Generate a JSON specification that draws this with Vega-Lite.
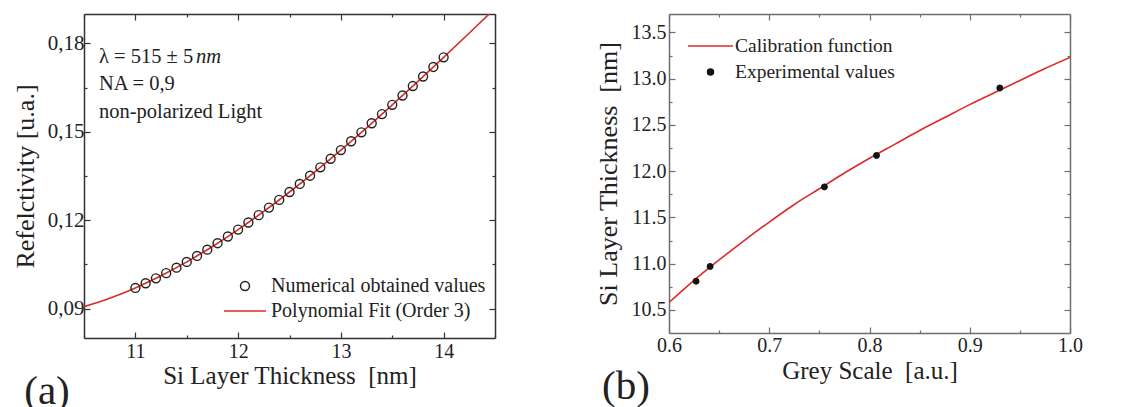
{
  "$schema": "https://vega.github.io/schema/vega-lite/v6.json",
  "background": "white",
  "padding": {"left": 12, "top": 13, "right": 0, "bottom": 0},
  "spacing": 99,
  "config": {
    "font": "Liberation Serif",
    "view": {"stroke": null},
    "axis": {"grid": false, "labelFont": "Liberation Serif", "titleFont": "Liberation Serif", "labelColor": "#222", "titleColor": "#222", "titleFontWeight": "normal", "domainWidth": 1.5, "tickWidth": 1.2},
    "legend": {"labelFont": "Liberation Serif", "labelLimit": 400},
    "title": {"font": "Liberation Serif"},
    "text": {"font": "Liberation Serif"}
  },
  "resolve": {
    "scale": {"color": "independent", "shape": "independent", "size": "independent", "x": "independent", "y": "independent"},
    "legend": {"color": "independent", "shape": "independent", "size": "independent"}
  },
  "hconcat": [
    {
      "width": 411,
      "height": 324,
      "title": {"text": "(a)", "orient": "bottom", "anchor": "start", "font": "Liberation Serif", "fontSize": 41, "fontWeight": "normal", "color": "#222", "dx": 12, "offset": -16},
      "layer": [
        {
          "data": {"values": [
            {"thickness": 10.5, "reflectivity": 0.09064, "series": "Polynomial Fit (Order 3)"},
            {"thickness": 10.75, "reflectivity": 0.09349, "series": "Polynomial Fit (Order 3)"},
            {"thickness": 11.0, "reflectivity": 0.09700, "series": "Polynomial Fit (Order 3)"},
            {"thickness": 11.25, "reflectivity": 0.10113, "series": "Polynomial Fit (Order 3)"},
            {"thickness": 11.5, "reflectivity": 0.10583, "series": "Polynomial Fit (Order 3)"},
            {"thickness": 11.75, "reflectivity": 0.11107, "series": "Polynomial Fit (Order 3)"},
            {"thickness": 12.0, "reflectivity": 0.11680, "series": "Polynomial Fit (Order 3)"},
            {"thickness": 12.25, "reflectivity": 0.12298, "series": "Polynomial Fit (Order 3)"},
            {"thickness": 12.5, "reflectivity": 0.12957, "series": "Polynomial Fit (Order 3)"},
            {"thickness": 12.75, "reflectivity": 0.13652, "series": "Polynomial Fit (Order 3)"},
            {"thickness": 13.0, "reflectivity": 0.14380, "series": "Polynomial Fit (Order 3)"},
            {"thickness": 13.25, "reflectivity": 0.15136, "series": "Polynomial Fit (Order 3)"},
            {"thickness": 13.5, "reflectivity": 0.15916, "series": "Polynomial Fit (Order 3)"},
            {"thickness": 13.75, "reflectivity": 0.16715, "series": "Polynomial Fit (Order 3)"},
            {"thickness": 14.0, "reflectivity": 0.17530, "series": "Polynomial Fit (Order 3)"},
            {"thickness": 14.25, "reflectivity": 0.18356, "series": "Polynomial Fit (Order 3)"},
            {"thickness": 14.5, "reflectivity": 0.19189, "series": "Polynomial Fit (Order 3)"}
          ]},
          "mark": {"type": "line", "strokeWidth": 1.6, "clip": true, "interpolate": "monotone"},
          "encoding": {
            "x": {"field": "thickness", "type": "quantitative",
              "scale": {"domain": [10.5, 14.5], "nice": false, "zero": false},
              "axis": {"orient": "bottom", "title": "Si Layer Thickness\u00a0 [nm]", "values": [10.5, 11, 11.5, 12, 12.5, 13, 13.5, 14, 14.5],
                "labelExpr": "datum.value % 1 === 0 ? format(datum.value, '.0f') : ''",
                "tickSize": {"condition": {"test": "datum.value % 1 === 0", "value": -6}, "value": -3},
                "labelFontSize": 20, "titleFontSize": 25, "labelPadding": 9, "titlePadding": 2, "domainColor": "#333", "tickColor": "#333"}},
            "y": {"field": "reflectivity", "type": "quantitative",
              "scale": {"domain": [0.08, 0.19], "nice": false, "zero": false},
              "axis": {"orient": "left", "title": "Refelctivity [u.a.]", "values": [0.09, 0.105, 0.12, 0.135, 0.15, 0.165, 0.18],
                "labelExpr": "indexof([0.09, 0.12, 0.15, 0.18], datum.value) >= 0 ? replace(format(datum.value, '.2f'), '.', ',') : ''",
                "tickSize": {"condition": {"test": "indexof([0.09, 0.12, 0.15, 0.18], datum.value) >= 0", "value": -6}, "value": -3},
                "labelFontSize": 21, "titleFontSize": 26, "labelPadding": 6, "titlePadding": 9, "domainColor": "#333", "tickColor": "#333"}},
            "color": {"field": "series", "type": "ordinal",
              "scale": {"domain": ["Numerical obtained values", "Polynomial Fit (Order 3)"], "range": ["#222222", "#dc2a2a"]},
              "legend": {"title": null, "orient": "none", "legendX": 139, "legendY": 262, "padding": 0, "labelFontSize": 20, "labelColor": "#222", "symbolStrokeWidth": 1.5, "rowPadding": 5, "clipHeight": 20, "labelOffset": 4, "labelLimit": 400}}
          }
        },
        {
          "data": {"values": [
            {"thickness": 11.0, "reflectivity": 0.09700, "series": "Numerical obtained values"},
            {"thickness": 11.1, "reflectivity": 0.09858, "series": "Numerical obtained values"},
            {"thickness": 11.2, "reflectivity": 0.10025, "series": "Numerical obtained values"},
            {"thickness": 11.3, "reflectivity": 0.10202, "series": "Numerical obtained values"},
            {"thickness": 11.4, "reflectivity": 0.10388, "series": "Numerical obtained values"},
            {"thickness": 11.5, "reflectivity": 0.10583, "series": "Numerical obtained values"},
            {"thickness": 11.6, "reflectivity": 0.10786, "series": "Numerical obtained values"},
            {"thickness": 11.7, "reflectivity": 0.10998, "series": "Numerical obtained values"},
            {"thickness": 11.8, "reflectivity": 0.11218, "series": "Numerical obtained values"},
            {"thickness": 11.9, "reflectivity": 0.11445, "series": "Numerical obtained values"},
            {"thickness": 12.0, "reflectivity": 0.11680, "series": "Numerical obtained values"},
            {"thickness": 12.1, "reflectivity": 0.11922, "series": "Numerical obtained values"},
            {"thickness": 12.2, "reflectivity": 0.12171, "series": "Numerical obtained values"},
            {"thickness": 12.3, "reflectivity": 0.12427, "series": "Numerical obtained values"},
            {"thickness": 12.4, "reflectivity": 0.12689, "series": "Numerical obtained values"},
            {"thickness": 12.5, "reflectivity": 0.12957, "series": "Numerical obtained values"},
            {"thickness": 12.6, "reflectivity": 0.13231, "series": "Numerical obtained values"},
            {"thickness": 12.7, "reflectivity": 0.13510, "series": "Numerical obtained values"},
            {"thickness": 12.8, "reflectivity": 0.13795, "series": "Numerical obtained values"},
            {"thickness": 12.9, "reflectivity": 0.14085, "series": "Numerical obtained values"},
            {"thickness": 13.0, "reflectivity": 0.14380, "series": "Numerical obtained values"},
            {"thickness": 13.1, "reflectivity": 0.14679, "series": "Numerical obtained values"},
            {"thickness": 13.2, "reflectivity": 0.14983, "series": "Numerical obtained values"},
            {"thickness": 13.3, "reflectivity": 0.15290, "series": "Numerical obtained values"},
            {"thickness": 13.4, "reflectivity": 0.15601, "series": "Numerical obtained values"},
            {"thickness": 13.5, "reflectivity": 0.15916, "series": "Numerical obtained values"},
            {"thickness": 13.6, "reflectivity": 0.16233, "series": "Numerical obtained values"},
            {"thickness": 13.7, "reflectivity": 0.16554, "series": "Numerical obtained values"},
            {"thickness": 13.8, "reflectivity": 0.16877, "series": "Numerical obtained values"},
            {"thickness": 13.9, "reflectivity": 0.17202, "series": "Numerical obtained values"},
            {"thickness": 14.0, "reflectivity": 0.17530, "series": "Numerical obtained values"}
          ]},
          "mark": {"type": "point", "filled": false, "strokeWidth": 1.4, "opacity": 1},
          "encoding": {
            "x": {"field": "thickness", "type": "quantitative",
              "axis": {"orient": "top", "title": null, "labels": false, "values": [10.5, 11, 11.5, 12, 12.5, 13, 13.5, 14, 14.5],
                "tickSize": {"condition": {"test": "datum.value % 1 === 0", "value": -6}, "value": -3},
                "domainColor": "#333", "tickColor": "#333"}},
            "y": {"field": "reflectivity", "type": "quantitative",
              "axis": {"orient": "right", "title": null, "labels": false, "values": [0.09, 0.105, 0.12, 0.135, 0.15, 0.165, 0.18],
                "tickSize": {"condition": {"test": "indexof([0.09, 0.12, 0.15, 0.18], datum.value) >= 0", "value": -6}, "value": -3},
                "domainColor": "#333", "tickColor": "#333"}},
            "color": {"field": "series", "type": "ordinal",
              "scale": {"domain": ["Numerical obtained values", "Polynomial Fit (Order 3)"], "range": ["#222222", "#dc2a2a"]},
              "legend": {"title": null, "orient": "none", "legendX": 139, "legendY": 262, "padding": 0, "labelFontSize": 20, "labelColor": "#222", "symbolStrokeWidth": 1.5, "rowPadding": 5, "clipHeight": 20, "labelOffset": 4, "labelLimit": 400}},
            "shape": {"field": "series", "type": "ordinal",
              "scale": {"domain": ["Numerical obtained values", "Polynomial Fit (Order 3)"], "range": ["circle", "stroke"]},
              "legend": {"title": null, "orient": "none", "legendX": 139, "legendY": 262, "padding": 0, "labelFontSize": 20, "labelColor": "#222", "symbolStrokeWidth": 1.5, "rowPadding": 5, "clipHeight": 20, "labelOffset": 4, "labelLimit": 400}},
            "size": {"field": "series", "type": "ordinal",
              "scale": {"domain": ["Numerical obtained values", "Polynomial Fit (Order 3)"], "range": [80, 1764]},
              "legend": {"title": null, "orient": "none", "legendX": 139, "legendY": 262, "padding": 0, "labelFontSize": 20, "labelColor": "#222", "symbolStrokeWidth": 1.5, "rowPadding": 5, "clipHeight": 20, "labelOffset": 4, "labelLimit": 400}}
          }
        },
        {
          "data": {"values": [{}]},
          "mark": {"type": "text", "align": "left", "baseline": "alphabetic", "font": "Liberation Serif", "fontSize": 20.5, "lineHeight": 27.5, "color": "#222"},
          "encoding": {
            "x": {"datum": 10.645, "type": "quantitative", "axis": null},
            "y": {"datum": 0.1735, "type": "quantitative", "axis": null},
            "text": {"value": ["λ = 515 ± 5", "NA = 0,9", "non-polarized Light"]}
          }
        },
        {
          "data": {"values": [{}]},
          "mark": {"type": "text", "align": "left", "baseline": "alphabetic", "font": "Liberation Serif", "fontSize": 20.5, "fontStyle": "italic", "color": "#222"},
          "encoding": {
            "x": {"datum": 11.59, "type": "quantitative", "axis": null},
            "y": {"datum": 0.1735, "type": "quantitative", "axis": null},
            "text": {"value": "nm"}
          }
        }
      ],
      "resolve": {"axis": {"x": "independent", "y": "independent"}}
    },
    {
      "width": 401,
      "height": 319,
      "title": {"text": "(b)", "orient": "bottom", "anchor": "start", "font": "Liberation Serif", "fontSize": 41, "fontWeight": "normal", "color": "#222", "dx": 7, "offset": -16},
      "layer": [
        {
          "data": {"values": [
            {"grey": 0.6, "thickness": 10.58, "series": "Calibration function"},
            {"grey": 0.625, "thickness": 10.82, "series": "Calibration function"},
            {"grey": 0.65, "thickness": 11.04, "series": "Calibration function"},
            {"grey": 0.675, "thickness": 11.25, "series": "Calibration function"},
            {"grey": 0.7, "thickness": 11.45, "series": "Calibration function"},
            {"grey": 0.725, "thickness": 11.64, "series": "Calibration function"},
            {"grey": 0.75, "thickness": 11.81, "series": "Calibration function"},
            {"grey": 0.775, "thickness": 11.98, "series": "Calibration function"},
            {"grey": 0.8, "thickness": 12.14, "series": "Calibration function"},
            {"grey": 0.825, "thickness": 12.29, "series": "Calibration function"},
            {"grey": 0.85, "thickness": 12.44, "series": "Calibration function"},
            {"grey": 0.875, "thickness": 12.58, "series": "Calibration function"},
            {"grey": 0.9, "thickness": 12.72, "series": "Calibration function"},
            {"grey": 0.925, "thickness": 12.85, "series": "Calibration function"},
            {"grey": 0.95, "thickness": 12.98, "series": "Calibration function"},
            {"grey": 0.975, "thickness": 13.11, "series": "Calibration function"},
            {"grey": 1.0, "thickness": 13.23, "series": "Calibration function"}
          ]},
          "mark": {"type": "line", "strokeWidth": 1.6, "clip": true, "interpolate": "monotone"},
          "encoding": {
            "x": {"field": "grey", "type": "quantitative",
              "scale": {"domain": [0.6, 1.0], "nice": false, "zero": false},
              "axis": {"orient": "bottom", "title": "Grey Scale\u00a0 [a.u.]", "values": [0.6, 0.65, 0.7, 0.75, 0.8, 0.85, 0.9, 0.95, 1.0],
                "labelExpr": "indexof([0.6, 0.7, 0.8, 0.9, 1.0], datum.value) >= 0 ? format(datum.value, '.1f') : ''",
                "tickSize": {"condition": {"test": "indexof([0.6, 0.7, 0.8, 0.9, 1.0], datum.value) >= 0", "value": -6}, "value": -3},
                "labelFontSize": 20, "titleFontSize": 25, "labelPadding": 8, "titlePadding": 3, "labelFlush": false, "domainColor": "#6e6e6e", "tickColor": "#6e6e6e"}},
            "y": {"field": "thickness", "type": "quantitative",
              "scale": {"domain": [10.25, 13.7], "nice": false, "zero": false},
              "axis": {"orient": "left", "title": "Si Layer Thickness\u00a0 [nm]", "values": [10.5, 10.75, 11, 11.25, 11.5, 11.75, 12, 12.25, 12.5, 12.75, 13, 13.25, 13.5],
                "labelExpr": "datum.value % 0.5 === 0 ? format(datum.value, '.1f') : ''",
                "tickSize": {"condition": {"test": "datum.value % 0.5 === 0", "value": -6}, "value": -3},
                "labelFontSize": 20, "titleFontSize": 26, "labelPadding": 9, "titlePadding": 10, "domainColor": "#6e6e6e", "tickColor": "#6e6e6e"}},
            "color": {"field": "series", "type": "ordinal",
              "scale": {"domain": ["Calibration function", "Experimental values"], "range": ["#dc2a2a", "#111111"]},
              "legend": {"title": null, "orient": "none", "legendX": 18, "legendY": 22, "padding": 0, "labelFontSize": 19.5, "labelColor": "#222", "symbolStrokeWidth": 1.5, "symbolFillColor": "#111111", "rowPadding": 6, "clipHeight": 20, "labelOffset": 1, "labelLimit": 400}}
          }
        },
        {
          "data": {"values": [
            {"grey": 0.627, "thickness": 10.81, "series": "Experimental values"},
            {"grey": 0.641, "thickness": 10.97, "series": "Experimental values"},
            {"grey": 0.755, "thickness": 11.83, "series": "Experimental values"},
            {"grey": 0.807, "thickness": 12.17, "series": "Experimental values"},
            {"grey": 0.930, "thickness": 12.90, "series": "Experimental values"}
          ]},
          "mark": {"type": "point", "filled": false, "fill": "#111111", "strokeWidth": 1, "opacity": 1},
          "encoding": {
            "x": {"field": "grey", "type": "quantitative",
              "axis": {"orient": "top", "title": null, "labels": false, "values": [0.6, 0.65, 0.7, 0.75, 0.8, 0.85, 0.9, 0.95, 1.0],
                "tickSize": {"condition": {"test": "indexof([0.6, 0.7, 0.8, 0.9, 1.0], datum.value) >= 0", "value": -6}, "value": -3},
                "domainColor": "#6e6e6e", "tickColor": "#6e6e6e"}},
            "y": {"field": "thickness", "type": "quantitative",
              "axis": {"orient": "right", "title": null, "labels": false, "values": [10.5, 10.75, 11, 11.25, 11.5, 11.75, 12, 12.25, 12.5, 12.75, 13, 13.25, 13.5],
                "tickSize": {"condition": {"test": "datum.value % 0.5 === 0", "value": -6}, "value": -3},
                "domainColor": "#6e6e6e", "tickColor": "#6e6e6e"}},
            "color": {"field": "series", "type": "ordinal",
              "scale": {"domain": ["Calibration function", "Experimental values"], "range": ["#dc2a2a", "#111111"]},
              "legend": {"title": null, "orient": "none", "legendX": 18, "legendY": 22, "padding": 0, "labelFontSize": 19.5, "labelColor": "#222", "symbolStrokeWidth": 1.5, "symbolFillColor": "#111111", "rowPadding": 6, "clipHeight": 20, "labelOffset": 1, "labelLimit": 400}},
            "shape": {"field": "series", "type": "ordinal",
              "scale": {"domain": ["Calibration function", "Experimental values"], "range": ["stroke", "circle"]},
              "legend": {"title": null, "orient": "none", "legendX": 18, "legendY": 22, "padding": 0, "labelFontSize": 19.5, "labelColor": "#222", "symbolStrokeWidth": 1.5, "symbolFillColor": "#111111", "rowPadding": 6, "clipHeight": 20, "labelOffset": 1, "labelLimit": 400}},
            "size": {"field": "series", "type": "ordinal",
              "scale": {"domain": ["Calibration function", "Experimental values"], "range": [2025, 36]},
              "legend": {"title": null, "orient": "none", "legendX": 18, "legendY": 22, "padding": 0, "labelFontSize": 19.5, "labelColor": "#222", "symbolStrokeWidth": 1.5, "symbolFillColor": "#111111", "rowPadding": 6, "clipHeight": 20, "labelOffset": 1, "labelLimit": 400}}
          }
        }
      ],
      "resolve": {"axis": {"x": "independent", "y": "independent"}}
    }
  ]
}
